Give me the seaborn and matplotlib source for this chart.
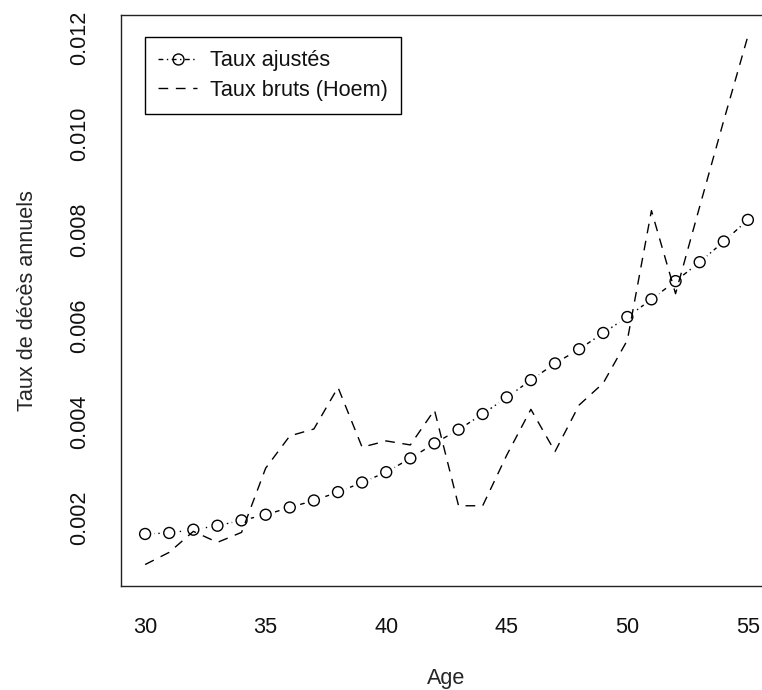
#!/usr/bin/env python3
"""
Taux de décès annuels par âge : taux ajustés vs taux bruts (Hoem).
"""

import matplotlib

matplotlib.use("Agg")

import pandas as pd
import matplotlib.pyplot as plt
import seaborn as sns
from matplotlib.lines import Line2D
from matplotlib.ticker import FormatStrFormatter

# Data
ages = list(range(30, 56))
fitted_rates = [
    0.001655, 0.001676, 0.001744, 0.001827, 0.001938, 0.002056, 0.002208,
    0.002353, 0.002528, 0.002728, 0.002944, 0.003231, 0.003543, 0.003830,
    0.004156, 0.004503, 0.004863, 0.005210, 0.005507, 0.005846, 0.006179,
    0.006547, 0.006927, 0.007322, 0.007753, 0.008204,
]
raw_rates = [
    0.001017, 0.001272, 0.001709, 0.001480, 0.001688, 0.003027, 0.003699,
    0.003844, 0.004711, 0.003464, 0.003595, 0.003511, 0.004239, 0.002243,
    0.002243, 0.003300, 0.004254, 0.003372, 0.004343, 0.004800, 0.005694,
    0.008397, 0.006665, 0.008480, 0.010277, 0.012035,
]
x_ticks = [30, 35, 40, 45, 50, 55]
y_ticks = [0.002, 0.004, 0.006, 0.008, 0.010, 0.012]
legend_labels = ["Taux ajustés", "Taux bruts (Hoem)"]
x_label = "Age"
y_label = "Taux de décès annuels"

FIT_STYLE = (0, (3.5, 2.5, 1, 2.5))
RAW_STYLE = (0, (7, 5.5))
FONT_SIZE = 15.6


def main() -> None:
    sns.set_theme(style="white")
    plt.rcParams["font.family"] = ["Liberation Sans", "DejaVu Sans"]
    plt.rcParams["text.color"] = "#111111"

    df = pd.DataFrame({"age": ages, "fitted": fitted_rates, "raw": raw_rates})

    fig = plt.figure(figsize=(7.62, 6.9), dpi=100)
    # plot region as in the R output (right edge runs past the image border)
    ax = fig.add_axes([121 / 762, 104.3 / 690, 651 / 762, 570.7 / 690])

    # fitted rates: R type="b" -> line with gaps around the points
    sns.lineplot(data=df, x="age", y="fitted", ax=ax, color="black",
                 lw=1, linestyle=FIT_STYLE, zorder=2)
    sns.scatterplot(data=df, x="age", y="fitted", ax=ax, marker="o", s=190,
                    color="white", edgecolor="none", linewidth=0, zorder=2.5)
    sns.lineplot(data=df, x="age", y="raw", ax=ax, color="black",
                 lw=1, linestyle=RAW_STYLE, zorder=3)
    sns.scatterplot(data=df, x="age", y="fitted", ax=ax, marker="o", s=62,
                    facecolor="none", edgecolor="black", linewidth=1, zorder=4)

    # R default axis ranges: data range +/- 4 %
    x_span = max(ages) - min(ages)
    ax.set_xlim(min(ages) - 0.04 * x_span, max(ages) + 0.04 * x_span)
    lo = min(min(fitted_rates), min(raw_rates))
    hi = max(max(fitted_rates), max(raw_rates))
    ax.set_ylim(lo - 0.04 * (hi - lo), hi + 0.04 * (hi - lo))

    ax.set_xticks(x_ticks)
    ax.set_yticks(y_ticks)
    ax.yaxis.set_major_formatter(FormatStrFormatter("%.3f"))
    for label in ax.get_yticklabels():
        label.set_rotation(90)
        label.set_va("center")

    ax.tick_params(axis="both", direction="out", length=10.3, width=1,
                   color="#222222", labelsize=FONT_SIZE, labelcolor="#111111")
    ax.tick_params(axis="x", pad=12.5)
    ax.tick_params(axis="y", pad=12)

    ax.set_xlabel(x_label, fontsize=FONT_SIZE, labelpad=21.5)
    ax.set_ylabel(y_label, fontsize=FONT_SIZE, labelpad=22)

    for spine in ax.spines.values():
        spine.set_color("#222222")
        spine.set_linewidth(1)

    handles = [
        Line2D([], [], color="black", lw=1, linestyle=FIT_STYLE, marker="o",
               markersize=7.9, markerfacecolor="none", markeredgecolor="black"),
        Line2D([], [], color="black", lw=1, linestyle=RAW_STYLE),
    ]
    legend = ax.legend(
        handles, legend_labels,
        loc="upper left", bbox_to_anchor=(0.037, 0.961), borderaxespad=0,
        fontsize=FONT_SIZE, frameon=True, fancybox=False, shadow=False,
        framealpha=1, edgecolor="black", handlelength=1.8,
        handletextpad=0.6, borderpad=0.6, labelspacing=0.4,
    )
    legend.get_frame().set_linewidth(1)

    fig.savefig("out.png", dpi=100, facecolor="white")
    plt.close(fig)


if __name__ == "__main__":
    main()
